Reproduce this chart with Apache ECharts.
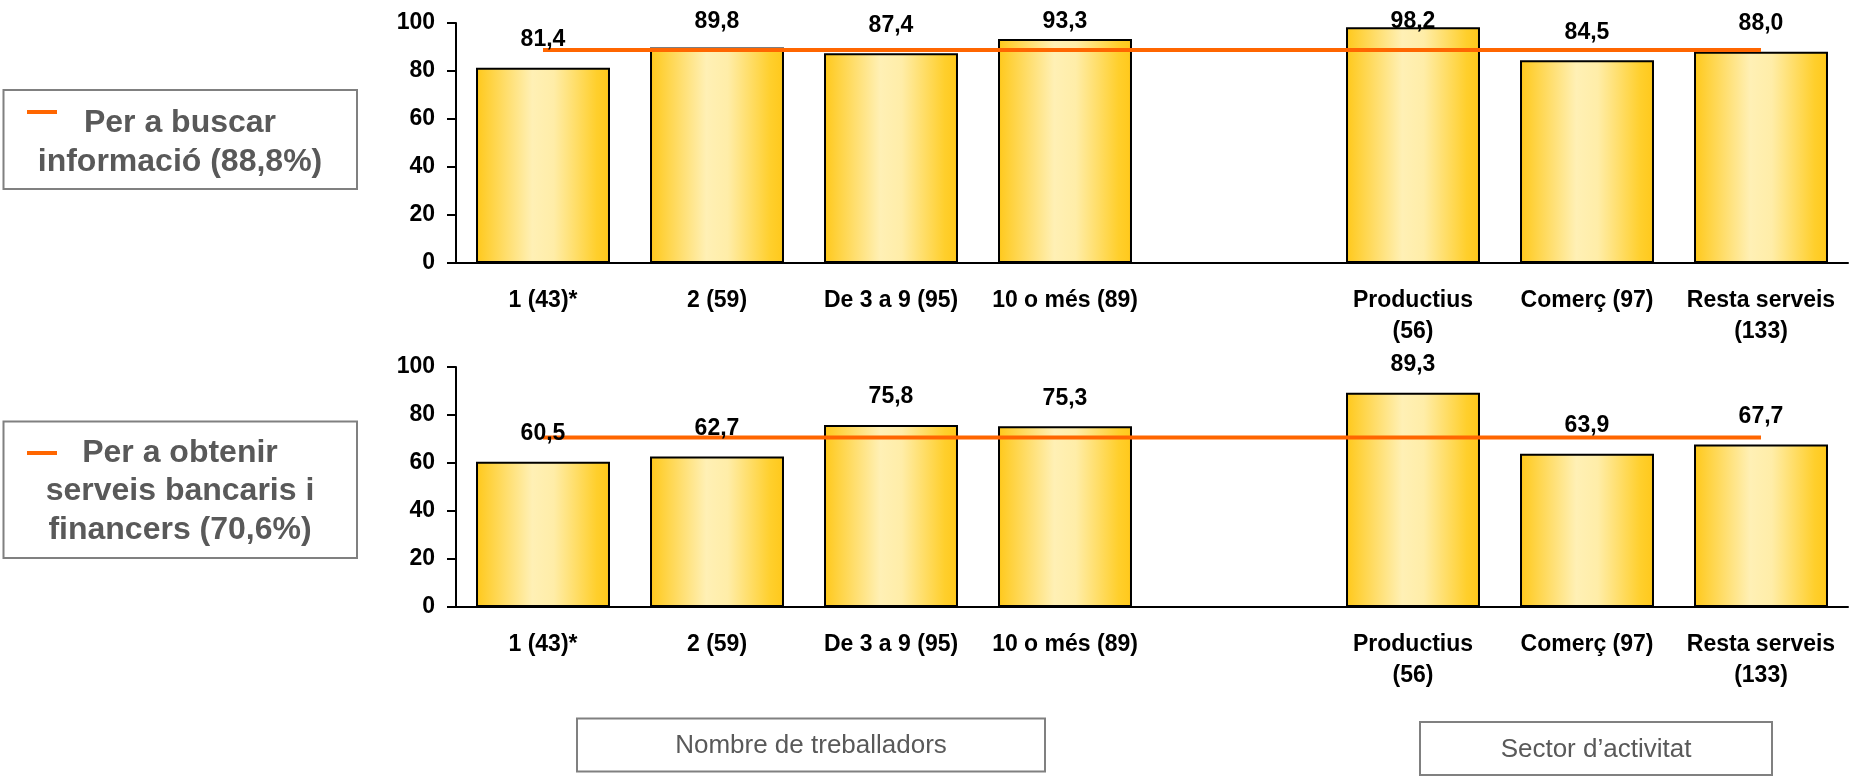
<!DOCTYPE html>
<html>
<head>
<meta charset="utf-8">
<script src="https://cdn.jsdelivr.net/npm/echarts@6/dist/echarts.min.js"></script>
<style>
  html, body { margin: 0; padding: 0; background: #fff; }
  #chart { width: 1865px; height: 778px; }
</style>
</head>
<body>
<div id="chart"></div>
<script>
const categories = ['1 (43)*', '2 (59)', 'De 3 a 9 (95)', '10 o més (89)', '', 'Productius\n(56)', 'Comerç (97)', 'Resta serveis\n(133)'];
const infoValues = [81.4, 89.8, 87.4, 93.3, null, 98.2, 84.5, 88.0];
const bankValues = [60.5, 62.7, 75.8, 75.3, null, 89.3, 63.9, 67.7];
const infoAverage = 88.8;
const bankAverage = 70.6;
const infoLegend = 'Per a buscar\ninformació';
const bankLegend = 'Per a obtenir\nserveis bancaris i\nfinancers';
const groupLabels = ['Nombre de treballadors', 'Sector d’activitat'];

const FONT = '"Liberation Sans", Arial, sans-serif';
const BOLD_SIZE = 23;
const fmt = v => v.toFixed(1).replace('.', ',');

const barFill = new echarts.graphic.LinearGradient(0, 0, 1, 0, [
  { offset: 0, color: '#FFC81A' },
  { offset: 0.1, color: '#FFD23E' },
  { offset: 0.42, color: '#FFF0B5' },
  { offset: 0.58, color: '#FFEDA8' },
  { offset: 0.9, color: '#FFCF2C' },
  { offset: 1, color: '#FFC81A' }
]);

// label sits ~28px above the bar top, but the top panel keeps it inside the chart area
const labelGap = (v, clamp) => {
  const c = clamp ? Math.min(28, (100 - v) * 2.4 + 1.7) : 28;
  return c - BOLD_SIZE / 2;
};

const xAxisFor = i => ({
  type: 'category',
  gridIndex: i,
  data: categories,
  axisLine: { lineStyle: { color: '#000', width: 2 } },
  axisTick: { length: 9, lineStyle: { color: '#000', width: 2 } },
  axisLabel: {
    interval: 0, margin: 22, color: '#000', fontWeight: 'bold',
    fontSize: BOLD_SIZE, lineHeight: 31, fontFamily: FONT
  }
});

const yAxisFor = i => ({
  type: 'value',
  gridIndex: i,
  min: 0,
  max: 100,
  interval: 20,
  axisLine: { show: true, lineStyle: { color: '#000', width: 2 } },
  axisTick: { show: true, length: 9, lineStyle: { color: '#000', width: 2 } },
  splitLine: { show: false },
  axisLabel: { margin: 21, color: '#000', fontWeight: 'bold', fontSize: BOLD_SIZE, fontFamily: FONT }
});

const panelSeries = (i, values, avg, clamp) => [
  {
    type: 'bar',
    xAxisIndex: i,
    yAxisIndex: i,
    data: values.map(v => (v == null ? '-' : v)),
    barWidth: '77%',
    z: 2,
    itemStyle: { color: barFill, borderColor: '#000', borderWidth: 2 }
  },
  {
    type: 'line',
    xAxisIndex: i,
    yAxisIndex: i,
    data: categories.map(() => avg),
    symbol: 'none',
    z: 3,
    lineStyle: { color: '#FF6600', width: 4 }
  },
  {
    // value labels, kept in their own series so they sit above the average line
    type: 'scatter',
    xAxisIndex: i,
    yAxisIndex: i,
    symbolSize: 0,
    z: 4,
    itemStyle: { opacity: 1 },
    data: values.map(v => (v == null ? '-' : { value: v, label: { distance: labelGap(v, clamp) } })),
    label: {
      show: true,
      position: 'top',
      color: '#000',
      opacity: 1,
      fontWeight: 'bold',
      fontSize: BOLD_SIZE,
      fontFamily: FONT,
      formatter: p => fmt(p.value)
    }
  }
];

const legendBox = (y, h, dashY, text, textY, lh) => [
  { type: 'rect', shape: { x: 3.5, y: y, width: 353.5, height: h }, style: { fill: '#fff', stroke: '#808080', lineWidth: 2 } },
  { type: 'rect', shape: { x: 27, y: dashY, width: 30, height: 4 }, style: { fill: '#FF6600' } },
  {
    type: 'text', x: 180, y: textY,
    style: {
      text: text, fill: '#595959', fontSize: 32, fontWeight: 'bold', fontFamily: FONT,
      align: 'center', verticalAlign: 'middle', lineHeight: lh
    }
  }
];

const groupBox = (x, y, w, h, text, textY) => [
  { type: 'rect', shape: { x: x, y: y, width: w, height: h }, style: { fill: '#fff', stroke: '#808080', lineWidth: 2 } },
  {
    type: 'text', x: x + w / 2, y: textY,
    style: {
      text: text, fill: '#595959', fontSize: 26, fontFamily: FONT,
      align: 'center', verticalAlign: 'middle'
    }
  }
];

const chart = echarts.init(document.getElementById('chart'), null, { renderer: 'canvas' });
chart.setOption({
  animation: false,
  backgroundColor: '#fff',
  grid: [
    { left: 456, right: 17, top: 23, height: 240, outerBoundsMode: 'none' },
    { left: 456, right: 17, top: 367, height: 240, outerBoundsMode: 'none' }
  ],
  xAxis: [xAxisFor(0), xAxisFor(1)],
  yAxis: [yAxisFor(0), yAxisFor(1)],
  series: [
    ...panelSeries(0, infoValues, infoAverage, true),
    ...panelSeries(1, bankValues, bankAverage, false)
  ],
  graphic: [
    ...legendBox(90, 99, 110, infoLegend + ' (' + fmt(infoAverage) + '%)', 143, 39),
    ...legendBox(421.5, 136.5, 451, bankLegend + ' (' + fmt(bankAverage) + '%)', 491.5, 38.5),
    ...groupBox(577, 718.5, 468, 53, groupLabels[0], 746),
    ...groupBox(1420, 722, 352, 53, groupLabels[1], 749.5)
  ]
});

window.addEventListener('resize', () => chart.resize());
</script>
</body>
</html>
